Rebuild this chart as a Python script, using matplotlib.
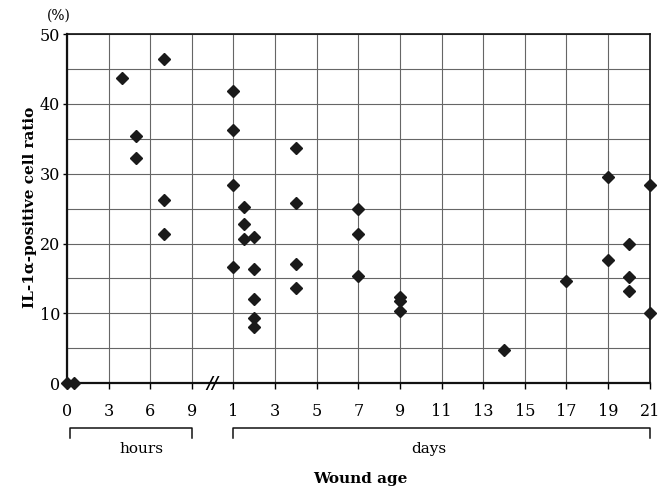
import matplotlib
matplotlib.use("Agg")
import matplotlib.pyplot as plt
import matplotlib.transforms as mtransforms
import numpy as np

# hour group (wound age in hours)
hour_age = [0, 0.5, 4, 5, 5, 7, 7, 7]
hour_ratio = [0, 0, 43.7, 35.4, 32.3, 46.5, 26.2, 21.4]

# day group (wound age in days)
day_age = [1, 1, 1, 1, 1.5, 1.5, 1.5, 2, 2, 2, 2, 2,
           4, 4, 4, 4, 7, 7, 7, 9, 9, 9, 14, 17,
           19, 19, 20, 20, 20, 21, 21]
day_ratio = [41.8, 36.3, 28.4, 16.6, 25.2, 22.8, 20.6, 20.9, 16.4, 12.0, 9.3, 8.0,
             33.7, 25.8, 17.0, 13.6, 24.9, 21.3, 15.4, 12.4, 11.7, 10.4, 4.7, 14.6,
             29.6, 17.6, 20.0, 15.2, 13.2, 28.4, 10.0]

hour_ticks = [0, 3, 6, 9]
day_ticks = [1, 3, 5, 7, 9, 11, 13, 15, 17, 19, 21]


def hour_pos(h):
    return np.asarray(h, dtype=float) / 3.0


def day_pos(d):
    return 4 + (np.asarray(d, dtype=float) - 1) / 2.0


plt.rcParams["font.family"] = "DejaVu Serif"

fig = plt.figure(figsize=(6.63, 4.88), dpi=100)
ax = fig.add_axes([0.101, 0.215, 0.879, 0.715])

ax.plot(hour_pos(hour_age), hour_ratio, "D", color="#1a1a1a", ms=6, clip_on=False, zorder=5)
ax.plot(day_pos(day_age), day_ratio, "D", color="#1a1a1a", ms=6, clip_on=False, zorder=5)

ticks = list(hour_pos(hour_ticks)) + list(day_pos(day_ticks))
labels = [str(t) for t in hour_ticks] + [str(t) for t in day_ticks]
ax.set_xticks(ticks)
ax.set_xticklabels(labels, fontsize=11.5)
ax.set_xlim(0, 14)
ax.set_ylim(0, 50)
ax.set_yticks(np.arange(0, 51, 10))
ax.set_yticks(np.arange(5, 50, 10), minor=True)
ax.tick_params(axis="y", labelsize=11.5, length=3, width=1, pad=2)
ax.tick_params(axis="x", length=4, width=1, pad=10)
ax.tick_params(axis="y", which="minor", length=0)

ax.grid(True, which="both", color="#666666", linewidth=0.8)
ax.set_axisbelow(True)
for s in ax.spines.values():
    s.set_color("#111111")
    s.set_linewidth(1.2)
ax.spines["left"].set_linewidth(1.6)
ax.spines["bottom"].set_linewidth(1.6)

# axis break mark
ax.text(3.5, 0, "//", ha="center", va="center", fontsize=12, fontstyle="italic",
        fontweight="bold", clip_on=False, zorder=6)

# group brackets under the axis
trans = mtransforms.blended_transform_factory(ax.transData, ax.transAxes)
for x0, x1 in [(0.08, 3.0), (4.0, 14.0)]:
    ax.plot([x0, x0, x1, x1], [-0.158, -0.129, -0.129, -0.158], color="#111111",
            lw=1.1, transform=trans, clip_on=False)
ax.text(1.78, -0.19, "hours", transform=trans, ha="center", va="center", fontsize=11)
ax.text(8.7, -0.19, "days", transform=trans, ha="center", va="center", fontsize=11)

fig.text(0.543, 0.018, "Wound age", ha="center", va="center", fontsize=11, fontweight="bold")
fig.text(0.088, 0.968, "(%)", ha="center", va="center", fontsize=10)
fig.text(0.045, 0.575, "IL-1\u03b1-positive cell ratio", rotation=90, ha="center",
         va="center", fontsize=11, fontweight="bold")

fig.savefig("out.png", dpi=100)
